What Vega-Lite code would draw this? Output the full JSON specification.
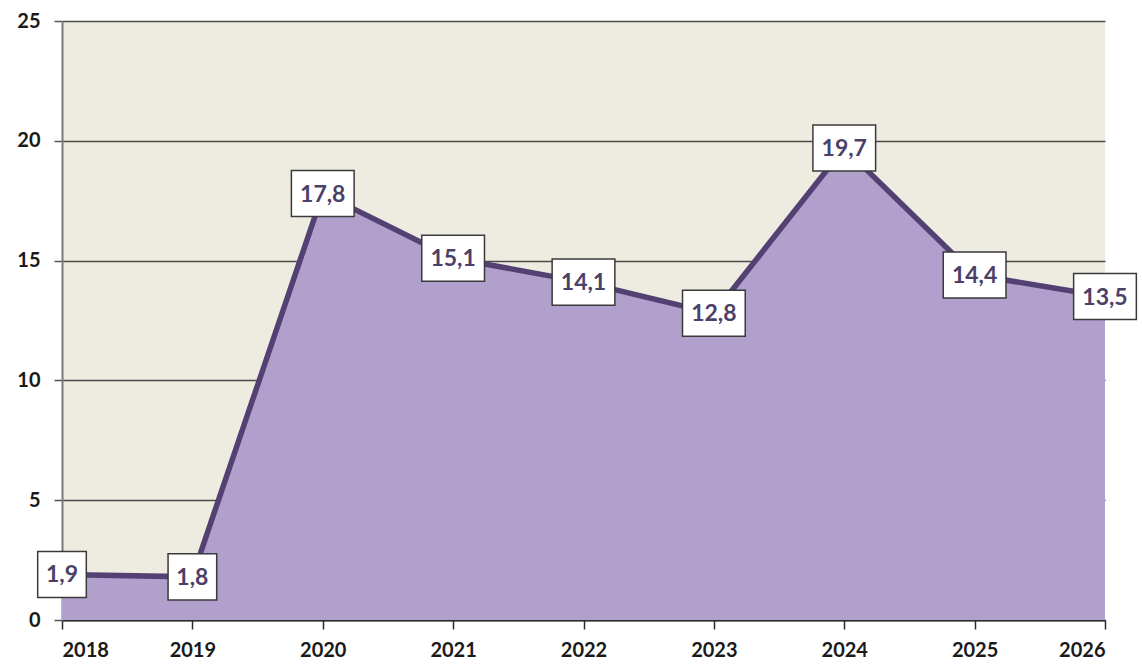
{
  "$schema": "https://vega.github.io/schema/vega-lite/v6.json",
  "width": 1043,
  "height": 599,
  "autosize": {"type": "none"},
  "padding": {"left": 62, "top": 21, "right": 37, "bottom": 48},
  "background": "#ffffff",
  "view": {"fill": "#EEEBE1", "stroke": null},
  "data": {
    "values": [
      {"year": 2018, "value": 1.9, "label": "1,9"},
      {"year": 2019, "value": 1.8, "label": "1,8"},
      {"year": 2020, "value": 17.8, "label": "17,8"},
      {"year": 2021, "value": 15.1, "label": "15,1"},
      {"year": 2022, "value": 14.1, "label": "14,1"},
      {"year": 2023, "value": 12.8, "label": "12,8"},
      {"year": 2024, "value": 19.7, "label": "19,7"},
      {"year": 2025, "value": 14.4, "label": "14,4"},
      {"year": 2026, "value": 13.5, "label": "13,5"}
    ]
  },
  "transform": [{"calculate": "length(datum.label) > 3 ? 'wide' : 'narrow'", "as": "boxw"}],
  "encoding": {
    "x": {
      "field": "year", "type": "quantitative",
      "scale": {"domain": [2018, 2026], "nice": false, "zero": false},
      "axis": {
        "title": null, "values": [2018,2019,2020,2021,2022,2023,2024,2025,2026], "format": "d",
        "grid": false, "domainColor": "#2b2b2b", "domainWidth": 2,
        "tickColor": "#2b2b2b", "tickSize": 9, "tickWidth": 1.5,
        "labelFont": "Lato", "labelFontSize": 20, "labelFontWeight": "bold", "labelColor": "#1a1a1a",
        "labelPadding": 11
      }
    },
    "y": {
      "field": "value", "type": "quantitative",
      "scale": {"domain": [0, 25], "nice": false},
      "axis": {
        "title": null, "values": [0,5,10,15,20,25],
        "grid": true, "gridColor": "#4a4a4a", "gridWidth": 1.3,
        "domainColor": "#7a7a7a", "domainWidth": 2,
        "tickColor": "#555555", "tickSize": 8, "tickWidth": 1.5,
        "labelFont": "Lato", "labelFontSize": 20, "labelFontWeight": "bold", "labelColor": "#1a1a1a",
        "labelPadding": 14
      }
    }
  },
  "layer": [
    {"mark": {"type": "area", "color": "#B19FCC", "opacity": 1}},
    {"mark": {"type": "line", "color": "#544173", "strokeWidth": 5.5, "strokeJoin": "miter"}},
    {
      "mark": {"type": "point", "filled": true, "fill": "#ffffff", "stroke": "#3a3a3a", "strokeWidth": 1.5, "opacity": 1, "size": 4096},
      "encoding": {
        "shape": {
          "field": "boxw", "type": "nominal", "legend": null,
          "scale": {"domain": ["narrow", "wide"], "range": ["M-0.76,-0.72H0.76V0.72H-0.76Z", "M-0.98,-0.72H0.98V0.72H-0.98Z"]}
        }
      }
    },
    {
      "mark": {"type": "text", "font": "Lato", "fontSize": 23, "fontWeight": "bold", "color": "#4B4068", "baseline": "middle", "align": "center", "dy": 1},
      "encoding": {"text": {"field": "label"}}
    }
  ]
}
